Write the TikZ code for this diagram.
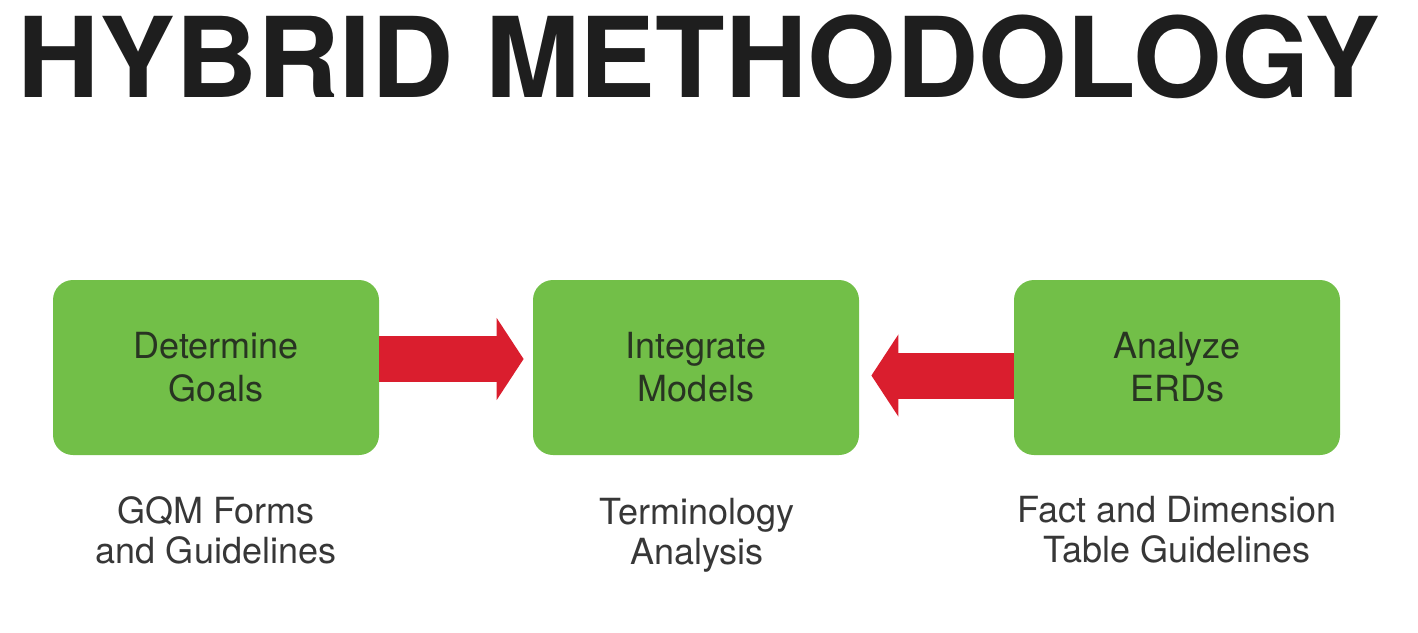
\documentclass[tikz,border=0pt]{standalone}
\usepackage{fontspec}
\setmainfont{TeX Gyre Heros}
\usepackage{tikz}
\usetikzlibrary{arrows.meta,positioning,calc}

\definecolor{boxgreen}{RGB}{114,191,72}
\definecolor{arrowred}{RGB}{218,30,46}
\definecolor{titlegray}{RGB}{30,30,30}
\definecolor{textgray}{RGB}{55,55,55}
\definecolor{boxtext}{RGB}{40,52,34}

\begin{document}
\begin{tikzpicture}[x=0.5pt,y=-0.5pt]
\tikzstyle{stepbox}=[rectangle,rounded corners=10pt,fill=boxgreen,minimum width=163pt,minimum height=87.5pt,inner sep=0pt,align=center,text=boxtext,font=\fontsize{18}{21.5}\selectfont]
\tikzstyle{caption}=[align=center,text=textgray,font=\fontsize{18}{20}\selectfont]
\tikzstyle{bigarrow}=[draw=arrowred,line width=23pt,-{Triangle[length=13.5pt,width=40.5pt]}]
\useasboundingbox (0,0) rectangle (1418,632);
\node[anchor=base,text=titlegray,font=\fontsize{55.7}{60}\selectfont\bfseries] (title) at (698.5,97) {\scalebox{1.022}[1]{HYBRID METHODOLOGY}};

\node[stepbox] (goals) at (216,367.5) {Determine\\Goals};
\node[stepbox] (models) at (696,367.5) {Integrate\\Models};
\node[stepbox] (erds) at (1177,367.5) {Analyze\\ERDs};

\node[caption] (gqm) at (216,530) {GQM Forms\\and Guidelines};
\node[caption] (term) at (697,535) {Terminology\\Analysis};
\node[caption] (fact) at (1177,530) {Fact and Dimension\\Table Guidelines};

% arrows
\draw[bigarrow,shorten >=4.5pt] ($(goals.east)+(0,-8.5)$) -- ($(models.west)+(0,-8.5)$);
\draw[bigarrow,shorten >=6pt] ($(erds.west)+(0,8)$) -- ($(models.east)+(0,8)$);
\end{tikzpicture}
\end{document}
